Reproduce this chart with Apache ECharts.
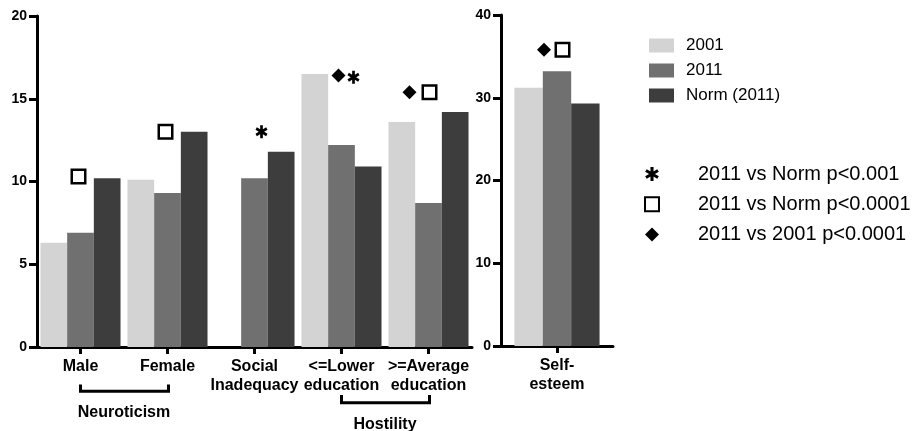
<!DOCTYPE html>
<html><head><meta charset="utf-8">
<script src="https://cdn.jsdelivr.net/npm/echarts@6/dist/echarts.min.js"></script>
<style>html,body{margin:0;padding:0;background:#fff}#c{width:914px;height:431px}</style>
</head><body><div id="c"></div>
<script>
// ---------- data ----------
const leftCategories = ['Male', 'Female', 'Social\nInadequacy', '<=Lower\neducation', '>=Average\neducation'];
const rightCategories = ['Self-\nesteem'];
const seriesNames = ['2001', '2011', 'Norm (2011)'];
const left2001 = [6.3, 10.1, null, 16.5, 13.6];
const left2011 = [6.9, 9.3, 10.2, 12.2, 8.7];
const leftNorm = [10.2, 13.0, 11.8, 10.9, 14.2];
const right2001 = [31.2];
const right2011 = [33.2];
const rightNorm = [29.3];
const leftTicks = [0, 5, 10, 15, 20];
const rightTicks = [0, 10, 20, 30, 40];
const groupLabels = ['Neuroticism', 'Hostility'];
const groupSpans = [[0, 1], [3, 4]];
const sigNames = ['2011 vs Norm p<0.001', '2011 vs Norm p<0.0001', '2011 vs 2001 p<0.0001'];
// significance marks: [categoryIndex, value]
const leftAsterisks = [[2, 13.0], [3, 16.3]];
const leftSquares = [[0, 10.3], [1, 13.0], [4, 15.4]];
const leftDiamonds = [[3, 16.4], [4, 15.4]];
const rightSquares = [[0, 35.8]];
const rightDiamonds = [[0, 35.8]];

// ---------- styles / layout ----------
const FONT = "'Liberation Sans', Arial, Helvetica, sans-serif";
const colors = ['#d3d3d3', '#707070', '#3d3d3d'];
const markOffsetX = {
  leftAsterisks: [7, 12], leftSquares: [-2, -2, 1], leftDiamonds: [-3, -19],
  rightSquares: [5.5], rightDiamonds: [-13]
};
const ASTERISK = 'path://M-1.1,-5L1.1,-5L1.1,5L-1.1,5Z M3.78,-3.453L4.88,-1.547L-3.78,3.453L-4.88,1.547Z M4.88,1.547L3.78,3.453L-4.88,-1.547L-3.78,-3.453Z';

const chart = echarts.init(document.getElementById('c'), null, {renderer: 'canvas'});

function yAxis(gi, ticks) {
  return {
    type: 'value', gridIndex: gi, min: ticks[0], max: ticks[ticks.length - 1],
    interval: ticks[1] - ticks[0],
    splitLine: {show: false},
    axisLine: {show: true, lineStyle: {color: '#000', width: 3}},
    axisTick: {show: true, length: 8, lineStyle: {color: '#000', width: 3}},
    axisLabel: {color: '#000', fontFamily: FONT, fontWeight: 'bold', fontSize: 14, margin: 10}
  };
}
function xAxis(gi, cats) {
  return {
    type: 'category', gridIndex: gi, data: cats,
    axisLine: {show: true, lineStyle: {color: '#000', width: 3}},
    axisTick: {show: true, alignWithLabel: true, length: 7, lineStyle: {color: '#000', width: 3}},
    axisLabel: {color: '#000', fontFamily: FONT, fontWeight: 'bold', fontSize: 16, lineHeight: 19, margin: 10, interval: 0}
  };
}
function bars(gi, arrays, gap) {
  return arrays.map((arr, i) => ({
    type: 'bar', name: seriesNames[i], xAxisIndex: gi, yAxisIndex: gi, data: arr,
    barGap: '0%', barCategoryGap: gap, itemStyle: {color: colors[i]}, silent: true
  }));
}
function marks(gi, name, pts, offs, kind) {
  const base = {type: 'scatter', name: name, xAxisIndex: gi, yAxisIndex: gi, z: 5, silent: true,
    data: pts.map((p, k) => ({value: p, symbolOffset: [offs[k], 0]}))};
  if (kind === 'square') Object.assign(base, {symbol: 'rect', symbolSize: 13.5,
    itemStyle: {color: '#fff', borderColor: '#000', borderWidth: 2.5, opacity: 1}});
  if (kind === 'diamond') Object.assign(base, {symbol: 'diamond', symbolSize: 14, itemStyle: {color: '#000', opacity: 1}});
  if (kind === 'asterisk') Object.assign(base, {symbol: ASTERISK, symbolSize: [12, 13], itemStyle: {color: '#000', opacity: 1}});
  return base;
}

const option = {
  animation: false,
  backgroundColor: '#fff',
  grid: [
    {left: 37, top: 16, width: 435, height: 331},
    {left: 501, top: 15, width: 112, height: 331}
  ],
  xAxis: [xAxis(0, leftCategories), xAxis(1, rightCategories)],
  yAxis: [yAxis(0, leftTicks), yAxis(1, rightTicks)],
  legend: [
    {data: seriesNames, orient: 'vertical', left: 649, top: 37, padding: 0, icon: 'rect',
      itemWidth: 25, itemHeight: 14, itemGap: 8, selectedMode: false,
      textStyle: {color: '#000', fontFamily: FONT, fontSize: 17, padding: [0, 0, 0, 7]}},
    {data: sigNames, orient: 'vertical', left: 644, top: 164, padding: 0,
      itemWidth: 14, itemHeight: 14, itemGap: 10.3, selectedMode: false,
      textStyle: {color: '#000', fontFamily: FONT, fontSize: 20, padding: [0, 0, 0, 34]}}
  ],
  series: [
    ...bars(0, [left2001, left2011, leftNorm], '8%'),
    ...bars(1, [right2001, right2011, rightNorm], '24%'),
    marks(0, sigNames[0], leftAsterisks, markOffsetX.leftAsterisks, 'asterisk'),
    marks(0, sigNames[1], leftSquares, markOffsetX.leftSquares, 'square'),
    marks(0, sigNames[2], leftDiamonds, markOffsetX.leftDiamonds, 'diamond'),
    marks(1, sigNames[1], rightSquares, markOffsetX.rightSquares, 'square'),
    marks(1, sigNames[2], rightDiamonds, markOffsetX.rightDiamonds, 'diamond')
  ]
};
chart.setOption(option);

// group brackets under the category axis
const bracketY = [{top: 384.5, bar: 391.3, text: 413}, {top: 395, bar: 402.8, text: 424.5}];
const graphics = [];
groupSpans.forEach((span, g) => {
  const x0 = chart.convertToPixel({xAxisIndex: 0}, span[0]);
  const x1 = chart.convertToPixel({xAxisIndex: 0}, span[1]);
  const b = bracketY[g];
  graphics.push({type: 'polyline', silent: true,
    shape: {points: [[x0, b.top], [x0, b.bar], [x1 + 1, b.bar], [x1 + 1, b.top]]},
    style: {stroke: '#000', lineWidth: 3, fill: null}});
  graphics.push({type: 'text', silent: true,
    style: {text: groupLabels[g], x: (x0 + x1) / 2, y: b.text, textAlign: 'center', textVerticalAlign: 'middle',
      font: 'bold 16px ' + FONT, fill: '#000'}});
});
chart.setOption({graphic: graphics});
</script>
</body></html>
